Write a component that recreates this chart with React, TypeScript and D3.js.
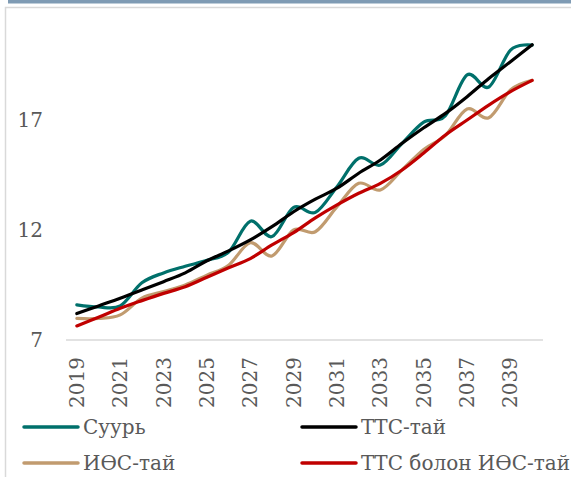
import * as d3 from 'd3'

// 2019..2040
const years = d3.range(2019, 2041).map(String)
const yTicks = [7, 12, 17]
const xLabels = years.filter((_, i) => i % 2 === 0)

const suur = [8.6, 8.5, 8.55, 9.6, 10.05, 10.35, 10.62, 11.0, 12.4, 11.7, 13.03, 12.8, 13.97, 15.26, 14.95, 15.94, 16.9, 17.2, 19.05, 18.5, 20.18, 20.4]
const tts = [8.2, 8.55, 8.9, 9.27, 9.65, 10.05, 10.6, 11.05, 11.55, 12.15, 12.83, 13.4, 13.9, 14.58, 15.18, 15.94, 16.65, 17.3, 18.06, 18.89, 19.65, 20.42]
const ios = [7.98, 7.98, 8.14, 8.9, 9.2, 9.5, 9.95, 10.4, 11.42, 10.82, 12.0, 11.92, 13.06, 14.12, 13.82, 14.73, 15.66, 16.3, 17.5, 17.1, 18.36, 18.8]
const ttsIos = [7.64, 8.03, 8.44, 8.79, 9.12, 9.42, 9.85, 10.28, 10.7, 11.32, 11.88, 12.55, 13.14, 13.67, 14.12, 14.73, 15.5, 16.32, 17.0, 17.68, 18.29, 18.8]

const seriesNames = ['Суурь', 'ТТС-тай', 'ИӨС-тай', 'ТТС болон ИӨС-тай']
const seriesColors = ['#00706b', '#000000', '#c19b6f', '#c00000']
const seriesValues = [suur, tts, ios, ttsIos]
// draw order: background series first
const drawOrder = [0, 2, 3, 1]

const W = 571, H = 477
const FONT = '"DejaVu Serif", serif'
const TXT = '#595959'

export default function App() {
  const x = d3.scaleBand<string>().domain(years).range([66, 543])
  const y = d3.scaleLinear().domain([7, 22]).range([340, 10])
  const cx = (yr: string) => x(yr)! + x.bandwidth() / 2

  const line = d3.line<number>()
    .x((_, i) => cx(years[i]))
    .y((v) => y(v))
    .curve(d3.curveCardinal)

  const legendPos = [
    { x: 24, y: 427 }, { x: 302, y: 427 },
    { x: 24, y: 463 }, { x: 302, y: 463 },
  ]

  return (
    <svg width={W} height={H} style={{ position: 'absolute', left: 0, top: 0, background: '#fff' }}>
      <rect x={8} y={0} width={W - 8} height={3.5} fill="#7f9bb4" />
      <path d={`M5.5,${H} V7.5 H${W}`} fill="none" stroke="#d9d9d9" strokeWidth={1.5} />

      {/* y ticks */}
      {yTicks.map((t) => (
        <text key={t} x={43} y={y(t)} dy="0.35em" textAnchor="end"
          fontFamily={FONT} fontSize={20} fill={TXT}>{t}</text>
      ))}

      {/* x axis */}
      <line x1={66} x2={543} y1={y(7)} y2={y(7)} stroke="#d9d9d9" strokeWidth={1.5} />
      {xLabels.map((yr) => (
        <text key={yr} transform={`translate(${cx(yr)},357) rotate(-90)`}
          textAnchor="end" dy="0.35em" fontFamily={FONT} fontSize={20} fill={TXT}>{yr}</text>
      ))}

      {/* lines */}
      {drawOrder.map((k) => (
        <path key={k} d={line(seriesValues[k])!} fill="none"
          stroke={seriesColors[k]} strokeWidth={3.2} strokeLinecap="round" />
      ))}

      {/* legend */}
      {seriesNames.map((n, k) => (
        <g key={n} transform={`translate(${legendPos[k].x},${legendPos[k].y})`}>
          <line x1={0} x2={54} y1={0} y2={0} stroke={seriesColors[k]} strokeWidth={3.5} strokeLinecap="round" />
          <text x={59} y={0} dy="0.35em" fontFamily={FONT} fontSize={20} fill={TXT}>{n}</text>
        </g>
      ))}
    </svg>
  )
}
